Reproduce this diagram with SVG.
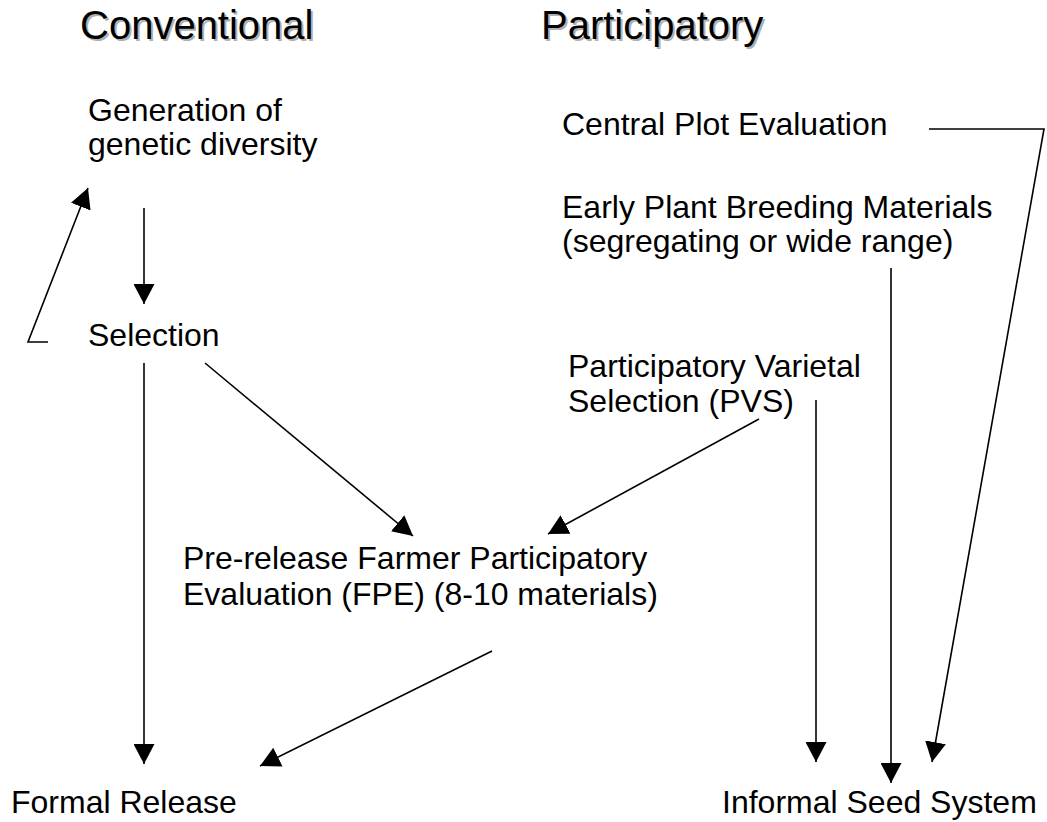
<svg xmlns="http://www.w3.org/2000/svg" width="1047" height="822" viewBox="0 0 1047 822">
<style>
.t{font-family:"Liberation Sans",Arial,sans-serif;font-size:32px;fill:#000}
.h{font-family:"Liberation Sans",Arial,sans-serif;font-size:40px;fill:#000}
.hs{font-family:"Liberation Sans",Arial,sans-serif;font-size:40px;fill:#b0b0b0}
.c{stroke:#000;stroke-width:1.6;fill:none}
</style>
<defs>
<marker id="ah" viewBox="0 0 20 21" refX="20" refY="10.5" markerWidth="20" markerHeight="21" markerUnits="userSpaceOnUse" orient="auto">
<path d="M0,0 L20,10.5 L0,21 z" fill="#000"/>
</marker>
</defs>
<rect width="1047" height="822" fill="#fff"/>
<g id="head-conventional">
<text class="hs" x="82" y="41">Conventional</text>
<text class="h" x="80" y="39">Conventional</text>
</g>
<g id="head-participatory">
<text class="hs" x="543" y="41">Participatory</text>
<text class="h" x="541" y="39">Participatory</text>
</g>
<g id="generation">
<text class="t" x="88" y="121">Generation of</text>
<text class="t" x="88" y="155">genetic diversity</text>
</g>
<g id="selection">
<text class="t" x="88" y="346">Selection</text>
</g>
<g id="central-plot">
<text class="t" x="562" y="135">Central Plot Evaluation</text>
</g>
<g id="early-plant">
<text class="t" x="562" y="218">Early Plant Breeding Materials</text>
<text class="t" x="562" y="252">(segregating or wide range)</text>
</g>
<g id="pvs">
<text class="t" x="568" y="377">Participatory Varietal</text>
<text class="t" x="568" y="412">Selection (PVS)</text>
</g>
<g id="fpe">
<text class="t" x="183" y="569">Pre-release Farmer Participatory</text>
<text class="t" x="183" y="605">Evaluation (FPE) (8-10 materials)</text>
</g>
<g id="formal-release">
<text class="t" x="11" y="813">Formal Release</text>
</g>
<g id="informal-seed">
<text class="t" x="722" y="813">Informal Seed System</text>
</g>
<g id="connectors">
<line class="c" x1="144" y1="208" x2="144" y2="304" marker-end="url(#ah)"/>
<polyline class="c" points="48,342 28,342 88,188" marker-end="url(#ah)"/>
<line class="c" x1="144" y1="363" x2="144" y2="764" marker-end="url(#ah)"/>
<line class="c" x1="205" y1="363" x2="413" y2="536" marker-end="url(#ah)"/>
<line class="c" x1="759" y1="419" x2="548" y2="534" marker-end="url(#ah)"/>
<line class="c" x1="816" y1="400" x2="816" y2="762" marker-end="url(#ah)"/>
<line class="c" x1="891" y1="268" x2="891" y2="783" marker-end="url(#ah)"/>
<polyline class="c" points="929,129 1044,129 932,762" marker-end="url(#ah)"/>
<line class="c" x1="492" y1="651" x2="260" y2="766" marker-end="url(#ah)"/>
</g>
</svg>
